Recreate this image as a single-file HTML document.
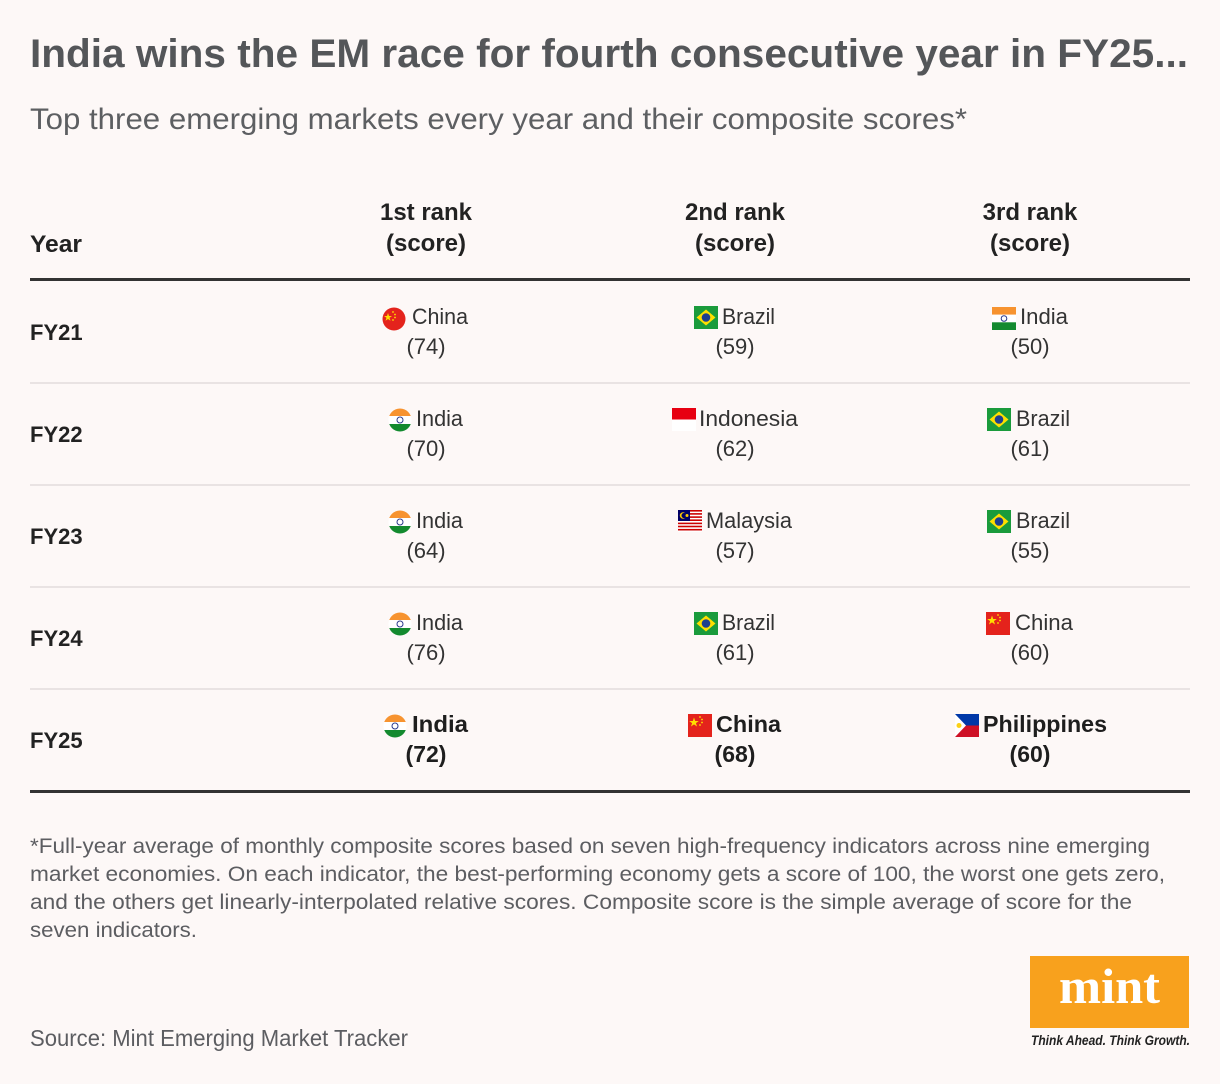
<!DOCTYPE html>
<html>
<head>
<meta charset="utf-8">
<style>
html,body{margin:0;padding:0;background:#fdf8f7;}
svg{display:block;}
text{font-family:"Liberation Sans",sans-serif;}
.nm{font-size:22px;fill:#333;}
.nb{font-size:23px;fill:#1e1e1e;font-weight:bold;}
.sc{font-size:22px;fill:#333;text-anchor:middle;}
.sb{font-size:23px;fill:#1e1e1e;font-weight:bold;text-anchor:middle;}
.fy{font-size:22px;fill:#222;font-weight:bold;}
.hd{font-size:24px;fill:#222;font-weight:bold;text-anchor:middle;}
.fn{font-size:21.5px;fill:#5c5d61;}
</style>
</head>
<body>
<svg width="1220" height="1084" viewBox="0 0 1220 1084" xmlns="http://www.w3.org/2000/svg">
<defs>
  <clipPath id="cc"><circle cx="12" cy="12" r="11.5"/></clipPath>
  <g id="indiaC">
    <g clip-path="url(#cc)">
      <rect x="0" y="0" width="24" height="8" fill="#f7932f"/>
      <rect x="0" y="8" width="24" height="8" fill="#ffffff"/>
      <rect x="0" y="16" width="24" height="8" fill="#138a2f"/>
      <circle cx="12" cy="12" r="3" fill="none" stroke="#2a3a8c" stroke-width="1"/>
    </g>
  </g>
  <g id="chinaC">
    <circle cx="12" cy="12" r="11.5" fill="#e4231c"/>
    <polygon points="6,6 7,9 10,9 7.5,10.8 8.5,13.8 6,12 3.5,13.8 4.5,10.8 2,9 5,9" fill="#ffde00"/>
    <circle cx="11" cy="5" r="0.9" fill="#ffde00"/>
    <circle cx="13" cy="7.5" r="0.9" fill="#ffde00"/>
    <circle cx="13" cy="10.5" r="0.9" fill="#ffde00"/>
    <circle cx="11" cy="13" r="0.9" fill="#ffde00"/>
  </g>
  <g id="chinaR">
    <rect x="0" y="0" width="24" height="23" fill="#e4231c"/>
    <polygon points="6,3.5 7.2,7 10.8,7 7.9,9.1 9,12.5 6,10.4 3,12.5 4.1,9.1 1.2,7 4.8,7" fill="#ffde00"/>
    <circle cx="12" cy="3" r="0.9" fill="#ffde00"/>
    <circle cx="14" cy="5.5" r="0.9" fill="#ffde00"/>
    <circle cx="14" cy="8.5" r="0.9" fill="#ffde00"/>
    <circle cx="12" cy="11" r="0.9" fill="#ffde00"/>
  </g>
  <g id="brazil">
    <rect x="0" y="0" width="24" height="23" fill="#1a9b3c"/>
    <polygon points="12,3.5 21.5,11.5 12,19.5 2.5,11.5" fill="#fedf00"/>
    <circle cx="12" cy="11.5" r="4.3" fill="#1e3f8f"/>
  </g>
  <g id="indiaR">
    <rect x="0" y="0" width="24" height="7.7" fill="#f7932f"/>
    <rect x="0" y="7.7" width="24" height="7.6" fill="#ffffff"/>
    <rect x="0" y="15.3" width="24" height="7.7" fill="#138a2f"/>
    <circle cx="12" cy="11.5" r="2.8" fill="none" stroke="#2a3a8c" stroke-width="1"/>
  </g>
  <g id="indonesia">
    <rect x="0" y="0" width="24" height="11.5" fill="#e70011"/>
    <rect x="0" y="11.5" width="24" height="11.5" fill="#ffffff"/>
  </g>
  <g id="malaysia">
    <rect x="0" y="0" width="24" height="22" fill="#ffffff"/>
    <rect x="0" y="0" width="24" height="1.6" fill="#cc0001"/>
    <rect x="0" y="3.1" width="24" height="1.6" fill="#cc0001"/>
    <rect x="0" y="6.3" width="24" height="1.6" fill="#cc0001"/>
    <rect x="0" y="9.4" width="24" height="1.6" fill="#cc0001"/>
    <rect x="0" y="12.6" width="24" height="1.6" fill="#cc0001"/>
    <rect x="0" y="15.7" width="24" height="1.6" fill="#cc0001"/>
    <rect x="0" y="18.9" width="24" height="1.6" fill="#cc0001"/>
    <rect x="0" y="0" width="12" height="11" fill="#010066"/>
    <circle cx="5" cy="5.5" r="3.2" fill="#ffcc00"/>
    <circle cx="6.1" cy="5.5" r="2.6" fill="#010066"/>
    <circle cx="9" cy="5.5" r="1.5" fill="#ffcc00"/>
  </g>
  <g id="phil">
    <rect x="0" y="0" width="24" height="11.5" fill="#0038a8"/>
    <rect x="0" y="11.5" width="24" height="11.5" fill="#ce1126"/>
    <polygon points="0,0 11,11.5 0,23" fill="#ffffff"/>
    <circle cx="4" cy="11.5" r="2.5" fill="#fcd116"/>
  </g>
</defs>

<rect x="0" y="0" width="1220" height="1084" fill="#fdf8f7"/>

<!-- Title -->
<text x="30" y="67" font-size="40" font-weight="bold" fill="#545659" textLength="1158" lengthAdjust="spacingAndGlyphs">India wins the EM race for fourth consecutive year in FY25...</text>
<text x="30" y="129" font-size="30" fill="#5d5f62" textLength="937" lengthAdjust="spacingAndGlyphs">Top three emerging markets every year and their composite scores*</text>

<!-- Header -->
<text x="30" y="252" font-size="24" font-weight="bold" fill="#222" textLength="52" lengthAdjust="spacingAndGlyphs">Year</text>
<text class="hd" x="426" y="220">1st rank</text>
<text class="hd" x="426" y="251">(score)</text>
<text class="hd" x="735" y="220">2nd rank</text>
<text class="hd" x="735" y="251">(score)</text>
<text class="hd" x="1030" y="220">3rd rank</text>
<text class="hd" x="1030" y="251">(score)</text>

<rect x="30" y="278" width="1160" height="3" fill="#333333"/>
<rect x="30" y="382" width="1160" height="2" fill="#e9e3e3"/>
<rect x="30" y="484" width="1160" height="2" fill="#e9e3e3"/>
<rect x="30" y="586" width="1160" height="2" fill="#e9e3e3"/>
<rect x="30" y="688" width="1160" height="2" fill="#e9e3e3"/>
<rect x="30" y="790" width="1160" height="3" fill="#333333"/>

<!-- FY21 -->
<text class="fy" x="30" y="340">FY21</text>
<use href="#chinaC" x="382" y="307"/>
<text class="nm" x="412" y="324" textLength="56" lengthAdjust="spacingAndGlyphs">China</text>
<text class="sc" x="426" y="354">(74)</text>
<use href="#brazil" x="694" y="306"/>
<text class="nm" x="722" y="324" textLength="53" lengthAdjust="spacingAndGlyphs">Brazil</text>
<text class="sc" x="735" y="354">(59)</text>
<use href="#indiaR" x="992" y="307"/>
<text class="nm" x="1020" y="324" textLength="48" lengthAdjust="spacingAndGlyphs">India</text>
<text class="sc" x="1030" y="354">(50)</text>

<!-- FY22 -->
<text class="fy" x="30" y="442">FY22</text>
<use href="#indiaC" x="388" y="408"/>
<text class="nm" x="416" y="426" textLength="47" lengthAdjust="spacingAndGlyphs">India</text>
<text class="sc" x="426" y="456">(70)</text>
<use href="#indonesia" x="672" y="408"/>
<text class="nm" x="699" y="426" textLength="99" lengthAdjust="spacingAndGlyphs">Indonesia</text>
<text class="sc" x="735" y="456">(62)</text>
<use href="#brazil" x="987" y="408"/>
<text class="nm" x="1016" y="426" textLength="54" lengthAdjust="spacingAndGlyphs">Brazil</text>
<text class="sc" x="1030" y="456">(61)</text>

<!-- FY23 -->
<text class="fy" x="30" y="544">FY23</text>
<use href="#indiaC" x="388" y="510"/>
<text class="nm" x="416" y="528" textLength="47" lengthAdjust="spacingAndGlyphs">India</text>
<text class="sc" x="426" y="558">(64)</text>
<use href="#malaysia" x="678" y="510"/>
<text class="nm" x="706" y="528" textLength="86" lengthAdjust="spacingAndGlyphs">Malaysia</text>
<text class="sc" x="735" y="558">(57)</text>
<use href="#brazil" x="987" y="510"/>
<text class="nm" x="1016" y="528" textLength="54" lengthAdjust="spacingAndGlyphs">Brazil</text>
<text class="sc" x="1030" y="558">(55)</text>

<!-- FY24 -->
<text class="fy" x="30" y="646">FY24</text>
<use href="#indiaC" x="388" y="612"/>
<text class="nm" x="416" y="630" textLength="47" lengthAdjust="spacingAndGlyphs">India</text>
<text class="sc" x="426" y="660">(76)</text>
<use href="#brazil" x="694" y="612"/>
<text class="nm" x="722" y="630" textLength="53" lengthAdjust="spacingAndGlyphs">Brazil</text>
<text class="sc" x="735" y="660">(61)</text>
<use href="#chinaR" x="986" y="612"/>
<text class="nm" x="1015" y="630" textLength="58" lengthAdjust="spacingAndGlyphs">China</text>
<text class="sc" x="1030" y="660">(60)</text>

<!-- FY25 -->
<text class="fy" x="30" y="748">FY25</text>
<use href="#indiaC" x="383" y="714"/>
<text class="nb" x="412" y="732" textLength="56" lengthAdjust="spacingAndGlyphs">India</text>
<text class="sb" x="426" y="762">(72)</text>
<use href="#chinaR" x="688" y="714"/>
<text class="nb" x="716" y="732" textLength="65" lengthAdjust="spacingAndGlyphs">China</text>
<text class="sb" x="735" y="762">(68)</text>
<use href="#phil" x="955" y="714"/>
<text class="nb" x="983" y="732" textLength="124" lengthAdjust="spacingAndGlyphs">Philippines</text>
<text class="sb" x="1030" y="762">(60)</text>

<!-- Footnote -->
<text class="fn" x="30" y="853" textLength="1120" lengthAdjust="spacingAndGlyphs">*Full-year average of monthly composite scores based on seven high-frequency indicators across nine emerging</text>
<text class="fn" x="30" y="881" textLength="1135" lengthAdjust="spacingAndGlyphs">market economies. On each indicator, the best-performing economy gets a score of 100, the worst one gets zero,</text>
<text class="fn" x="30" y="909" textLength="1102" lengthAdjust="spacingAndGlyphs">and the others get linearly-interpolated relative scores. Composite score is the simple average of score for the</text>
<text class="fn" x="30" y="937" textLength="167" lengthAdjust="spacingAndGlyphs">seven indicators.</text>

<!-- Source -->
<text x="30" y="1046" font-size="23" fill="#5c5d61" textLength="378" lengthAdjust="spacingAndGlyphs">Source: Mint Emerging Market Tracker</text>

<!-- Mint logo -->
<rect x="1030" y="956" width="159" height="72" fill="#f8a11d"/>
<text x="1059" y="1003" font-family="Liberation Serif, serif" font-size="50" font-weight="bold" fill="#ffffff" textLength="101" lengthAdjust="spacingAndGlyphs" style="font-family:'Liberation Serif',serif">mint</text>
<text x="1031" y="1045" font-size="13.5" font-weight="bold" font-style="italic" fill="#222" textLength="159" lengthAdjust="spacingAndGlyphs">Think Ahead. Think Growth.</text>
</svg>
</body>
</html>
